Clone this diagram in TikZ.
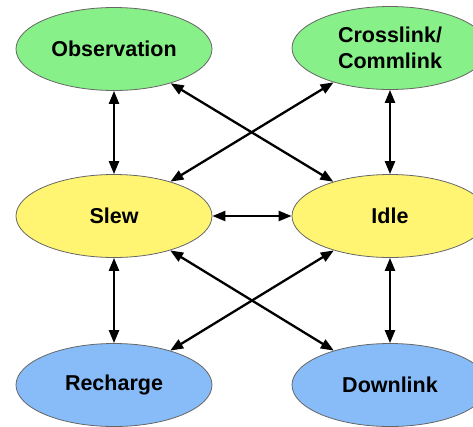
\documentclass[tikz,border=0pt]{standalone}
\usepackage{fontspec}
\setmainfont{Liberation Sans}
\usepackage{tikz}
\usetikzlibrary{arrows.meta,shapes.geometric}
\definecolor{obsgreen}{HTML}{88F088}
\definecolor{slewyellow}{HTML}{FFF573}
\definecolor{chargeblue}{HTML}{88BCF8}

\begin{document}
\begin{tikzpicture}[x=1pt,y=-1pt,>={Triangle[length=13pt,width=10pt]},line cap=round,
  state/.style={ellipse,draw=black!60,line width=0.8pt,minimum width=196pt,minimum height=83pt,
    inner sep=0pt,align=center,font=\fontsize{21.5}{26}\selectfont\bfseries},
  link/.style={<->,line width=2.3pt,black}]
\clip (0,0) rectangle (473,426);
\node[state,fill=obsgreen] (obs) at (114,49) {Observation};
\node[state,fill=obsgreen] (cross) at (390,48) {Crosslink/\\Commlink};
\node[state,fill=slewyellow] (slew) at (114,216) {Slew};
\node[state,fill=slewyellow] (idle) at (390,216) {Idle};
\node[state,fill=chargeblue] (charge) at (114,385) {Recharge};
\node[state,fill=chargeblue] (down) at (390,385) {Downlink};
\draw[link] (obs) -- (slew);
\draw[link] (slew) -- (charge);
\draw[link] (cross) -- (idle);
\draw[link] (idle) -- (down);
\draw[link] (slew) -- (idle);
\draw[link] (obs) -- (idle);
\draw[link] (cross) -- (slew);
\draw[link] (slew) -- (down);
\draw[link] (idle) -- (charge);
\end{tikzpicture}
\end{document}
